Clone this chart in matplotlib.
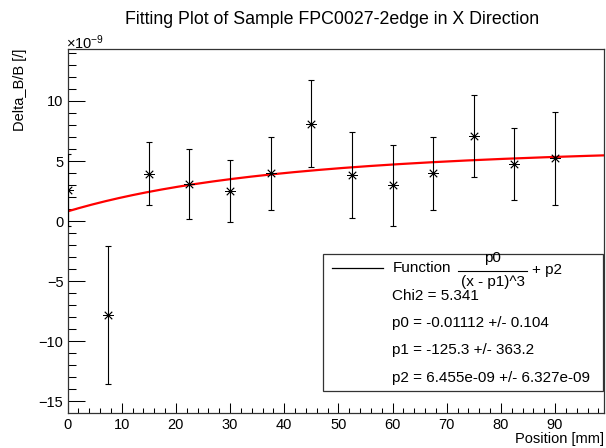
"""
ROOT-style fit plot: Delta_B/B vs position with p0/(x-p1)^3 + p2 fit.
"""

import numpy as np
import matplotlib
matplotlib.use("Agg")
import matplotlib.pyplot as plt
from matplotlib.patches import Rectangle
from matplotlib.lines import Line2D

plt.rcParams['font.family'] = ['Liberation Sans', 'DejaVu Sans']
plt.rcParams['mathtext.fontset'] = 'custom'
plt.rcParams['mathtext.rm'] = 'Liberation Sans'
plt.rcParams['mathtext.it'] = 'Liberation Sans:italic'

# measured points (values in units of 1e-9)
position = [0, 7.5, 15, 22.5, 30, 37.5, 45, 52.5, 60, 67.5, 75, 82.5, 90]
delta_bb = [2.6, -7.8, 3.95, 3.07, 2.51, 3.96, 8.12, 3.82, 2.99, 3.96, 7.1, 4.76, 5.24]
delta_err = [3.0, 5.75, 2.65, 2.93, 2.6, 3.05, 3.65, 3.58, 3.37, 3.05, 3.4, 3.0, 3.88]

# fit parameters shown in the stats box
p0 = -0.01112
p1 = -125.3
p2 = 6.455e-09
stats_lines = ["Chi2 = 5.341",
               "p0 = -0.01112 +/- 0.104",
               "p1 = -125.3 +/- 363.2",
               "p2 = 6.455e-09 +/- 6.327e-09"]

W, H = 606, 448
fig = plt.figure(figsize=(W / 100, H / 100), dpi=100)


def fx(px):
    return px / W


def fy(py):
    return 1 - py / H


ax = fig.add_axes([fx(67.6), fy(412.7), fx(603.8) - fx(67.6), fy(49.5) - fy(412.7)])

# fit curve
xf = np.linspace(0, 99, 200)
yf = (p0 / (xf - p1) ** 3 + p2) * 1e9
ax.plot(xf, yf, color='red', lw=1.6, zorder=2)

ax.errorbar(position, delta_bb, yerr=delta_err, fmt='none', ecolor='black',
            elinewidth=0.8, capsize=2, capthick=0.8, zorder=3)
ax.plot(position, delta_bb, ls='none', marker=(8, 2, 0), ms=7.5,
        mec='black', mew=0.6, zorder=4)

ax.set_xlim(0, 99)
ax.set_ylim(-15.97, 14.29)
ax.set_xticks(np.arange(0, 91, 10))
ax.set_xticks(np.arange(0, 99, 2), minor=True)
ax.set_yticks([-15, -10, -5, 0, 5, 10])
ax.set_yticklabels(['\u221215', '\u221210', '\u22125', '0', '5', '10'])
ax.set_yticks(np.arange(-15, 15, 1), minor=True)

ax.tick_params(axis='both', which='both', direction='in', top=False, right=False,
               labelsize=10.5, width=0.75, color='black')
ax.tick_params(axis='y', which='major', length=12.2, pad=3)
ax.tick_params(axis='y', which='minor', length=5.8)
ax.tick_params(axis='x', which='major', length=7.4, pad=3.5)
ax.tick_params(axis='x', which='minor', length=3.6)
for sp in ax.spines.values():
    sp.set_linewidth(0.9)
    sp.set_color('#333333')

# labels
fig.text(fx(332), fy(20), "Fitting Plot of Sample FPC0027-2edge in X Direction",
         ha='center', va='center', fontsize=12.8)
fig.text(fx(604), fy(439), "Position [mm]", ha='right', va='center', fontsize=10.5)
fig.text(fx(20), fy(49), "Delta_B/B [/]", rotation=90, ha='center', va='top',
         fontsize=10.5)
fig.text(fx(66), fy(43), r"$\times10^{-9}$", ha='left', va='center', fontsize=10.5)

# stats box
box = Rectangle((fx(322.7), fy(391)), fx(603) - fx(322.7), fy(254) - fy(391),
                transform=fig.transFigure, facecolor='white', edgecolor='#333333',
                lw=0.9, zorder=5)
fig.patches.append(box)
fig.add_artist(Line2D([fx(332), fx(382.7)], [fy(267.5), fy(267.5)],
                      color='black', lw=0.9, zorder=6))
fig.text(fx(392.5), fy(268), "Function", ha='left', va='center', fontsize=11, zorder=6)
fig.text(fx(492.7), fy(258), "p0", ha='center', va='center', fontsize=11, zorder=6)
fig.add_artist(Line2D([fx(458), fx(527)], [fy(271), fy(271)],
                      color='black', lw=0.8, zorder=6))
fig.text(fx(492.7), fy(281.5), "(x - p1)^3", ha='center', va='center', fontsize=11,
         zorder=6)
fig.text(fx(531.5), fy(270), "+ p2", ha='left', va='center', fontsize=11, zorder=6)
for i, s in enumerate(stats_lines):
    fig.text(fx(392.5), fy(295.7 + 27.3 * i), s, ha='left', va='center',
             fontsize=11, zorder=6)

fig.savefig("out.png", dpi=100)
